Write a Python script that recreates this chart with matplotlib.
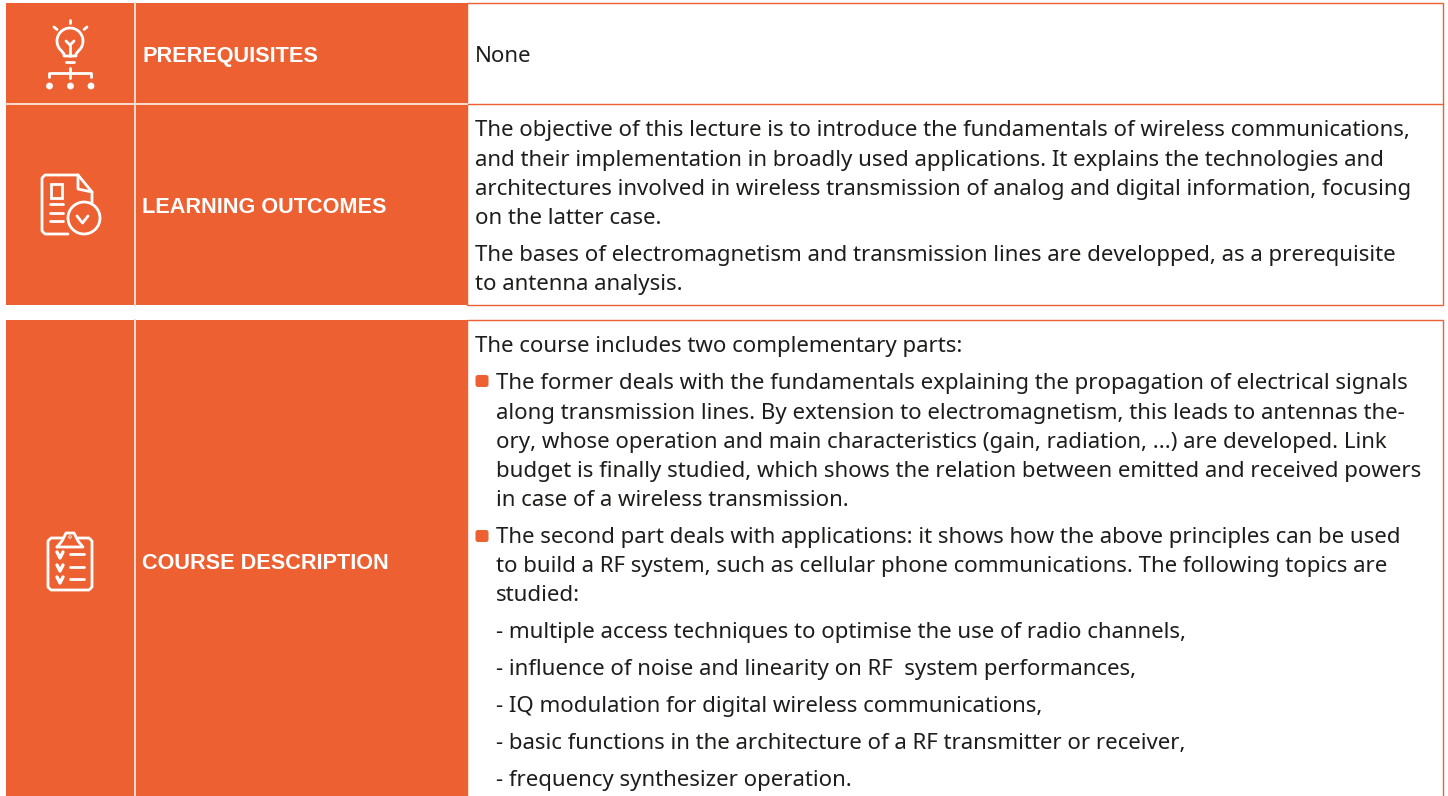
import numpy as np
import matplotlib.pyplot as plt
from matplotlib.patches import Rectangle, Circle, FancyBboxPatch

ORANGE = '#ec6032'
RULE = '#f9dccf'
TEXT = '#1d1d1b'

row_labels = ['PREREQUISITES', 'LEARNING OUTCOMES', 'COURSE DESCRIPTION']
row_label_y = [62, 213, 569]

# each entry: baseline y, x, text
body_lines = [
    (62, 475, 'None'),
    (136, 475, 'The objective of this lecture is to introduce the fundamentals of wireless communications,'),
    (166, 475, 'and their implementation in broadly used applications. It explains the technologies and'),
    (195, 475, 'architectures involved in wireless transmission of analog and digital information, focusing'),
    (224, 475, 'on the latter case.'),
    (261, 475, 'The bases of electromagnetism and transmission lines are developped, as a prerequisite'),
    (290, 475, 'to antenna analysis.'),
    (352, 475, 'The course includes two complementary parts:'),
    (389, 496, 'The former deals with the fundamentals explaining the propagation of electrical signals'),
    (419, 496, 'along transmission lines. By extension to electromagnetism, this leads to antennas the-'),
    (448, 496, 'ory, whose operation and main characteristics (gain, radiation, ...) are developed. Link'),
    (477, 496, 'budget is finally studied, which shows the relation between emitted and received powers'),
    (506, 496, 'in case of a wireless transmission.'),
    (543, 496, 'The second part deals with applications: it shows how the above principles can be used'),
    (572, 496, 'to build a RF system, such as cellular phone communications. The following topics are'),
    (601, 496, 'studied:'),
    (638, 496, '- multiple access techniques to optimise the use of radio channels,'),
    (675, 496, '- influence of noise and linearity on RF  system performances,'),
    (712, 496, '- IQ modulation for digital wireless communications,'),
    (749, 496, '- basic functions in the architecture of a RF transmitter or receiver,'),
    (786, 496, '- frequency synthesizer operation.'),
]
bullet_y = [381, 536]

fig = plt.figure(figsize=(14.48, 7.96), dpi=100)
ax = fig.add_axes([0, 0, 1, 1])
ax.set_xlim(0, 1448)
ax.set_ylim(796, 0)
ax.axis('off')


def line(xs, ys, lw=2.0):
    ax.plot(xs, ys, color='white', lw=lw, solid_capstyle='round', solid_joinstyle='round', zorder=5)


# table blocks
ax.add_patch(Rectangle((6, 3), 461, 302, fc=ORANGE, ec='none'))
ax.add_patch(Rectangle((6, 320), 461, 480, fc=ORANGE, ec='none'))
ax.add_patch(Rectangle((467, 3), 976, 302, fc='white', ec=ORANGE, lw=1))
ax.add_patch(Rectangle((467, 320), 976, 480, fc='white', ec=ORANGE, lw=1))
ax.plot([467, 1443], [104, 104], color=ORANGE, lw=1)
ax.plot([135, 135], [3, 305], color=RULE, lw=1.4)
ax.plot([135, 135], [320, 796], color=RULE, lw=1.4)
ax.plot([6, 467], [104, 104], color=RULE, lw=1.4)

for y, label in zip(row_label_y, row_labels):
    ax.text(142, y, label, color='white', fontsize=15.6, fontweight='bold',
            family='Liberation Sans', va='baseline', ha='left')

for y, x, s in body_lines:
    ax.text(x, y, s, color=TEXT, fontsize=16.03, family='Noto Sans', va='baseline', ha='left')

for y in bullet_y:
    ax.add_patch(FancyBboxPatch((477.5, y - 4), 9, 8, boxstyle='round,pad=2,rounding_size=2.5',
                                fc=ORANGE, ec='none'))

# bulb icon
t = np.radians(np.linspace(-50, 230, 60))
line(70 + 13 * np.cos(t), 41 - 13 * np.sin(t))
line([61.6, 64, 64, 76, 76, 78.4], [51, 54, 56, 56, 54, 51])
line([66, 74], [62, 62])
line([70, 70], [56, 44])
line([66, 70, 74], [41, 45, 41])
line([70, 70], [20, 23])
line([54, 57], [27, 29.5])
line([87, 84], [27, 29.5])
line([70, 70], [68, 78])
line([49, 49, 91, 91], [77, 72.5, 72.5, 77])
for cx in [49.5, 70.5, 91]:
    ax.add_patch(Circle((cx, 86), 3.4, fc='white', ec='none', zorder=5))

# document icon
line([78, 45, 42, 42, 45, 68], [175, 175, 178, 231, 234, 234])
line([78, 78, 92, 92], [175, 189, 192, 203])
line([78, 92], [175, 192])
ax.add_patch(Rectangle((51, 184), 11, 14, fc='none', ec='white', lw=2, zorder=5))
for y in [204, 213, 221]:
    line([50, 63], [y, y])
ax.add_patch(Circle((84, 218), 16, fc='none', ec='white', lw=2, zorder=5))
line([77, 82.5, 88], [216, 223, 216])

# clipboard icon
line([62, 51, 48, 48, 51, 89, 92, 92, 89, 78], [538, 538, 541, 587, 590, 590, 587, 541, 538, 538])
line([57, 62, 66, 74, 78, 83, 57], [547, 541, 533, 533, 541, 547, 547])
ax.add_patch(Circle((70, 537), 1.3, fc=ORANGE, ec='white', lw=0.6, zorder=6))
for y in [555, 568, 580]:
    line([57, 60, 63], [y - 3, y + 3, y - 3], lw=2.4)
    line([70, 84], [y - 1, y - 1])

fig.savefig('out.png', dpi=100)
